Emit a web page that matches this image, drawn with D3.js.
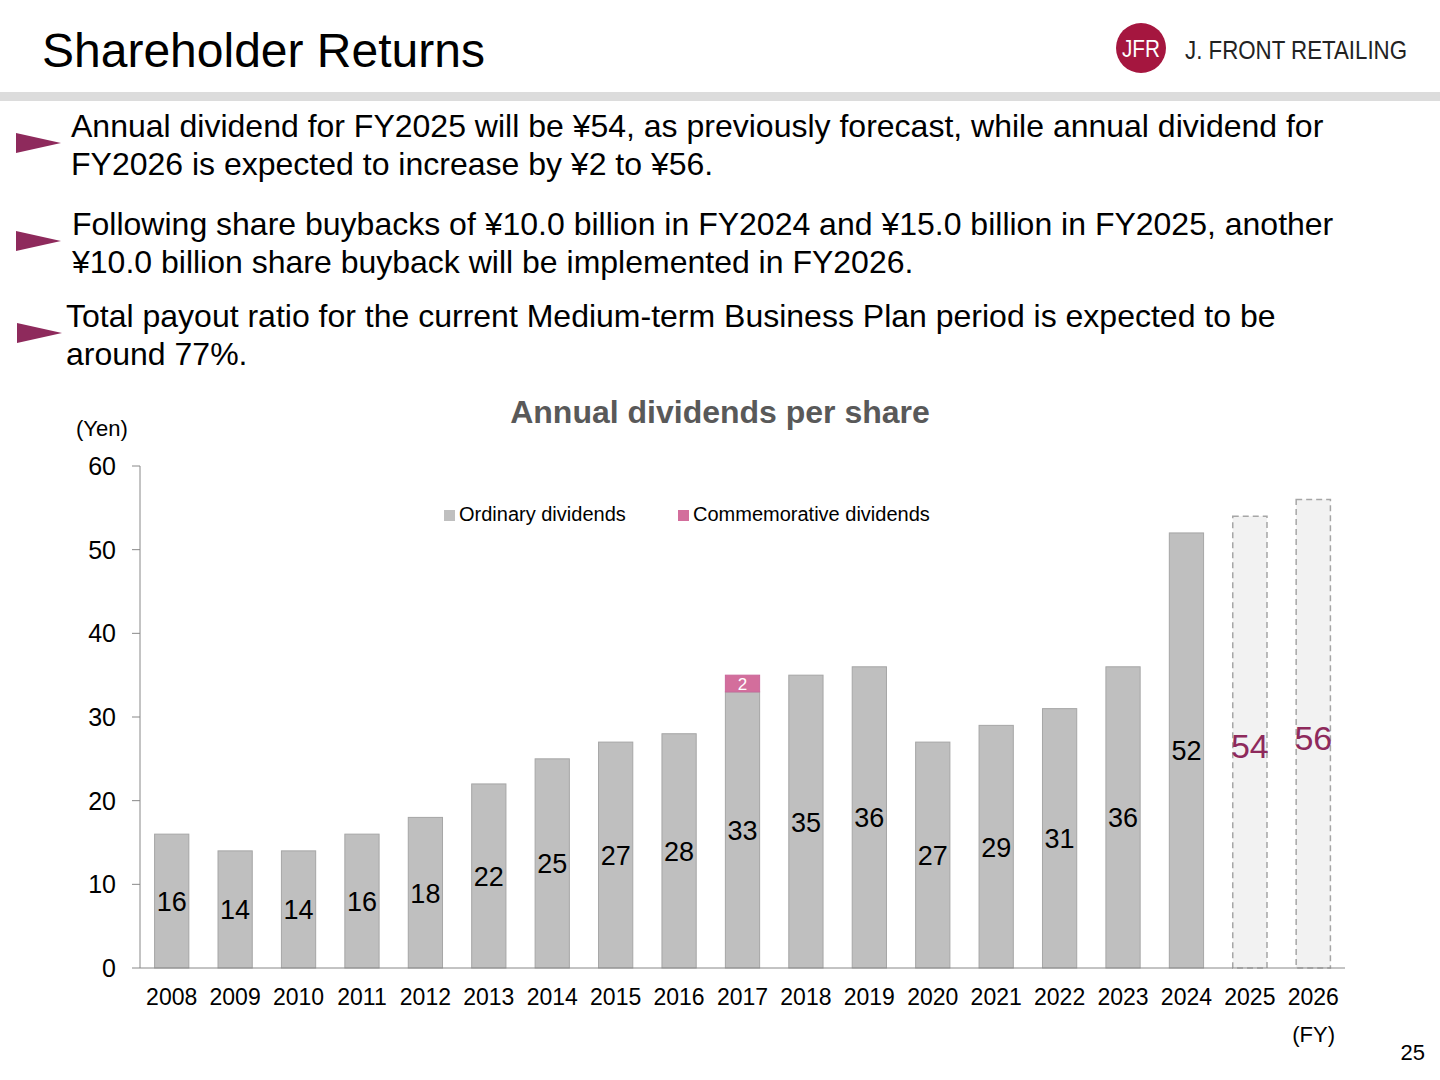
<!DOCTYPE html><html><head><meta charset="utf-8"><script src="https://cdn.jsdelivr.net/npm/d3@7"></script>
<style>body{margin:0;background:#fff;font-family:Arial,"Liberation Sans",sans-serif}</style></head><body><svg id="c" width="1440" height="1080"></svg>
<script>
const years=["2008","2009","2010","2011","2012","2013","2014","2015","2016","2017","2018","2019","2020","2021","2022","2023","2024","2025","2026"];
const ordinary=[16,14,14,16,18,22,25,27,28,33,35,36,27,29,31,36,52,54,56];
const commemorative=[0,0,0,0,0,0,0,0,0,2,0,0,0,0,0,0,0,0,0];
const forecast=[0,0,0,0,0,0,0,0,0,0,0,0,0,0,0,0,0,1,1];
const yTicks=[0,10,20,30,40,50,60];
const bullets=[["Annual dividend for FY2025 will be ¥54, as previously forecast, while annual dividend for","FY2026 is expected to increase by ¥2 to ¥56."],
["Following share buybacks of ¥10.0 billion in FY2024 and ¥15.0 billion in FY2025, another","¥10.0 billion share buyback will be implemented in FY2026."],
["Total payout ratio for the current Medium-term Business Plan period is expected to be","around 77%."]];
const svg=d3.select("#c");
svg.append("text").attr("x",42).attr("y",67).attr("font-size",48).attr("fill","#000").text("Shareholder Returns");
svg.append("rect").attr("x",0).attr("y",92).attr("width",1440).attr("height",9).attr("fill","#dcdcdc");
// logo
svg.append("circle").attr("cx",1141).attr("cy",48).attr("r",25).attr("fill","#a5163f");
svg.append("text").attr("x",1141).attr("y",57).attr("text-anchor","middle").attr("font-size",24).attr("fill","#fff").attr("textLength",38).attr("lengthAdjust","spacingAndGlyphs").text("JFR");
svg.append("text").attr("x",1185).attr("y",59).attr("font-size",26).attr("fill","#222").attr("textLength",222).attr("lengthAdjust","spacingAndGlyphs").text("J. FRONT RETAILING");
const bx=[[16,71,137],[16,72,235],[17,66,327]];
bullets.forEach((b,i)=>{const [ax,tx,ty]=bx[i];
 svg.append("path").attr("d",`M${ax},${ty-4}L${ax+45},${ty+6}L${ax},${ty+16}Z`).attr("fill","#8e2a5c");
 b.forEach((l,j)=>svg.append("text").attr("x",tx).attr("y",ty+j*38).attr("font-size",32).attr("fill","#000").text(l));});
svg.append("text").attr("x",720).attr("y",423).attr("text-anchor","middle").attr("font-size",32).attr("font-weight","bold").attr("fill","#595959").text("Annual dividends per share");
svg.append("text").attr("x",76).attr("y",436).attr("font-size",22).text("(Yen)");
const x=d3.scaleBand().domain(years).range([140,1345]).paddingInner(0.46).paddingOuter(0.23);
const y=d3.scaleLinear().domain([0,60]).range([968,466]);
const g=svg.append("g");
g.append("line").attr("x1",140).attr("x2",140).attr("y1",466).attr("y2",968).attr("stroke","#888");
yTicks.forEach(t=>{g.append("line").attr("x1",132).attr("x2",140).attr("y1",y(t)).attr("y2",y(t)).attr("stroke","#888");
 g.append("text").attr("x",116).attr("y",y(t)+9).attr("text-anchor","end").attr("font-size",25).text(t);});
years.forEach((yr,i)=>{const X=x(yr),w=x.bandwidth(),v=ordinary[i];
 if(forecast[i]){g.append("rect").attr("x",X).attr("y",y(v)).attr("width",w).attr("height",y(0)-y(v)).attr("fill","#f2f2f2").attr("stroke","#a6a6a6").attr("stroke-width",1.5).attr("stroke-dasharray","6,4");
  g.append("text").attr("x",X+w/2).attr("y",y(v/2)+16).attr("text-anchor","middle").attr("font-size",34).attr("fill","#8e2a5c").text(v);}
 else{const c=commemorative[i],tot=v+c;
  g.append("rect").attr("x",X).attr("y",y(v)).attr("width",w).attr("height",y(0)-y(v)).attr("fill","#bfbfbf").attr("stroke","#a6a6a6");
  if(c){g.append("rect").attr("x",X).attr("y",y(tot)).attr("width",w).attr("height",y(v)-y(tot)).attr("fill","#d36e9c").attr("stroke","#c9679a");
   g.append("text").attr("x",X+w/2).attr("y",y(tot)+15).attr("text-anchor","middle").attr("font-size",17).attr("fill","#fff").text(c);}
  g.append("text").attr("x",X+w/2).attr("y",y(v/2)+10).attr("text-anchor","middle").attr("font-size",27).attr("fill","#000").text(v);}
 g.append("text").attr("x",X+w/2).attr("y",1005).attr("text-anchor","middle").attr("font-size",23).text(yr);});
g.append("line").attr("x1",140).attr("x2",1345).attr("y1",968).attr("y2",968).attr("stroke","#888");
svg.append("text").attr("x",1335).attr("y",1042).attr("text-anchor","end").attr("font-size",22).text("(FY)");
svg.append("text").attr("x",1425).attr("y",1060).attr("text-anchor","end").attr("font-size",22).text("25");
[[444,"#bfbfbf","Ordinary dividends"],[678,"#d36e9c","Commemorative dividends"]].forEach(([lx,c,t])=>{
 svg.append("rect").attr("x",lx).attr("y",510).attr("width",11).attr("height",11).attr("fill",c);
 svg.append("text").attr("x",lx+15).attr("y",521).attr("font-size",20).text(t);});
</script></body></html>
